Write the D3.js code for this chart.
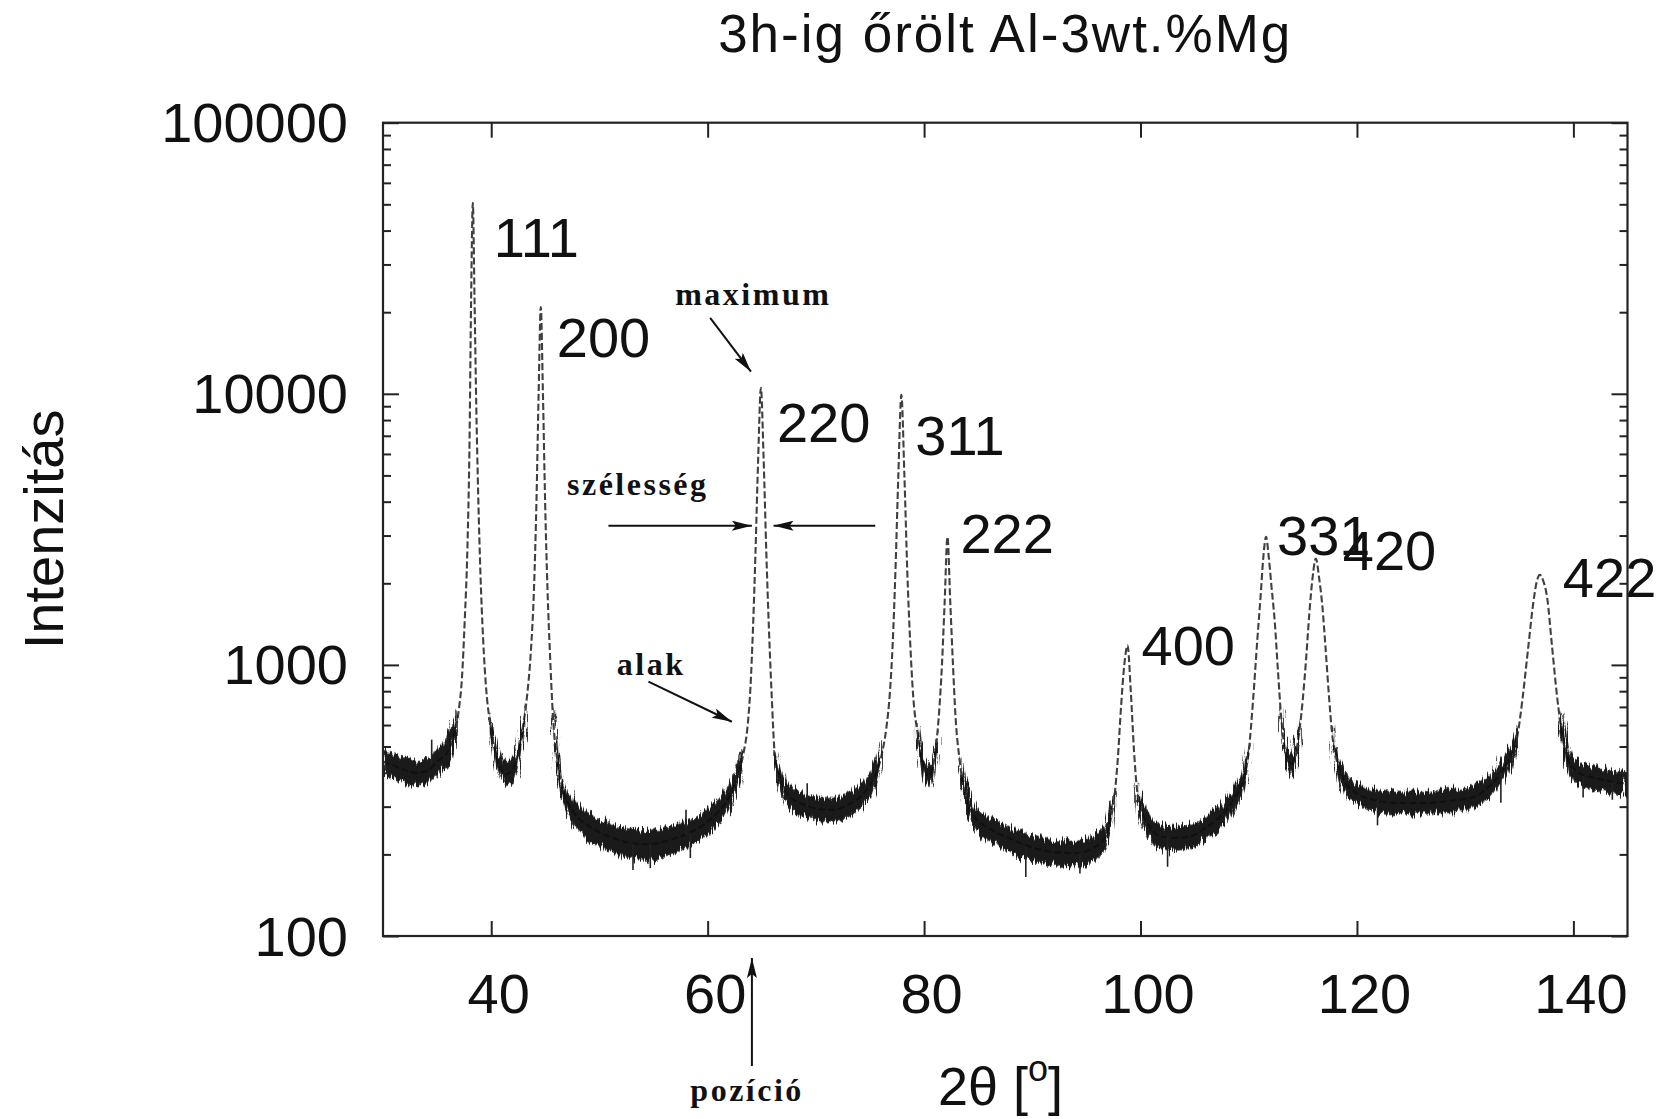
<!DOCTYPE html>
<html>
<head>
<meta charset="utf-8">
<script src="https://cdn.jsdelivr.net/npm/d3@7"></script>
<style>
  html, body { margin: 0; padding: 0; background: #fff; }
  svg { display: block; }
  .sans { font-family: "Liberation Sans", Arial, Helvetica, sans-serif; fill: #111; }
  .note { font-family: "Liberation Serif", "Times New Roman", serif; font-weight: bold; fill: #111; letter-spacing: 2.5px; }
</style>
</head>
<body>
<svg id="chart" width="1667" height="1119"></svg>
<script>
// Diffraction pattern of Al-3wt.%Mg milled for 3 h: 2θ [deg] vs counts
const profile = [
  [30.0, 440], [31.0, 425], [32.0, 410], [33.0, 400], [34.0, 405], [35.0, 440],
  [36.0, 480], [36.5, 540], [37.0, 680], [37.3, 900], [37.55, 1450], [37.8, 2700],
  [37.98, 6000], [38.14, 22000], [38.3, 50600], [38.46, 22000], [38.62, 9000],
  [38.8, 4200], [39.0, 2200], [39.25, 1250], [39.55, 800], [39.9, 610], [40.3, 490],
  [40.8, 420], [41.4, 395], [42.0, 415], [42.5, 470], [42.9, 580], [43.3, 760],
  [43.65, 1100], [43.95, 1900], [44.18, 4000], [44.38, 10000], [44.58, 20900],
  [44.78, 10000], [44.98, 4000], [45.2, 1900], [45.45, 1050], [45.7, 650], [46.1, 450],
  [46.6, 350], [47.8, 280], [49.0, 255], [50.1, 240], [51.5, 228], [53.0, 220],
  [54.5, 218], [56.2, 224], [57.8, 236], [59.3, 252], [60.5, 275], [61.4, 300],
  [62.2, 340], [62.8, 390], [63.3, 470], [63.7, 600], [63.95, 820], [64.2, 1400],
  [64.42, 2600], [64.67, 5800], [64.92, 10530], [65.17, 5800], [65.42, 2600],
  [65.65, 1400], [65.9, 800], [66.2, 470], [66.7, 380], [67.3, 337], [68.5, 310],
  [69.5, 299], [70.5, 293], [71.6, 292], [73.0, 305], [74.1, 326], [75.0, 360],
  [75.6, 400], [76.1, 470], [76.5, 580], [76.85, 800], [77.1, 1200], [77.35, 2200],
  [77.62, 5000], [77.9, 9910], [78.18, 5000], [78.45, 2200], [78.7, 1250], [79.0, 760],
  [79.4, 560], [79.9, 430], [80.4, 390], [80.8, 420], [81.1, 500], [81.4, 680],
  [81.65, 1000], [81.9, 1700], [82.16, 2966], [82.42, 1700], [82.67, 1000], [82.9, 650],
  [83.3, 440], [83.8, 330], [84.6, 278], [86.0, 250], [88.0, 228], [90.0, 212],
  [91.0, 207], [92.5, 203], [94.2, 202], [95.5, 210], [96.6, 228], [97.2, 265],
  [97.6, 330], [97.9, 450], [98.2, 700], [98.5, 1000], [98.8, 1180], [99.1, 800],
  [99.4, 480], [99.7, 340], [100.1, 290], [100.8, 255], [101.6, 235], [103.0, 230],
  [104.6, 233], [106.0, 250], [107.7, 285], [108.8, 330], [109.5, 376], [110.0, 480],
  [110.4, 740], [110.8, 1250], [111.1, 1800], [111.35, 2500], [111.6, 2970],
  [111.85, 2500], [112.1, 1950], [112.4, 1450], [112.7, 950], [113.0, 640], [113.3, 500],
  [113.7, 440], [114.0, 430], [114.3, 460], [114.7, 580], [115.0, 750], [115.3, 1050],
  [115.6, 1550], [115.9, 2100], [116.2, 2470], [116.5, 2100], [116.8, 1650],
  [117.1, 1150], [117.4, 780], [117.7, 560], [118.1, 450], [118.6, 390], [119.1, 360],
  [120.0, 335], [121.5, 318], [123.5, 310], [126.1, 309], [128.5, 315], [130.8, 326],
  [132.2, 355], [133.3, 400], [134.2, 460], [134.8, 540], [135.3, 750], [135.8, 1135],
  [136.3, 1700], [136.6, 2020], [136.9, 2148], [137.2, 2050], [137.6, 1740],
  [138.0, 1200], [138.5, 760], [139.0, 540], [139.7, 430], [140.5, 400], [141.6, 386],
  [143.0, 375], [144.0, 368], [145.0, 365]
];

// Counting-noise spread of the background: [2θ, low, high]
const noiseBand = [
  [[30, 395, 490], [31, 380, 470], [32, 365, 455], [33, 360, 445], [34, 365, 450],
   [35, 395, 490], [36, 430, 540], [36.8, 560, 680]],
  [[39.9, 560, 660], [40.5, 430, 510], [41.4, 355, 440], [42.2, 385, 470],
   [42.8, 480, 590], [43.2, 600, 720]],
  [[45.7, 560, 680], [46.6, 315, 390], [47.8, 250, 310], [49, 228, 283], [50.1, 213, 268],
   [51.5, 202, 255], [53, 193, 248], [54.5, 190, 246], [56.2, 197, 252], [57.8, 210, 263],
   [59.3, 226, 280], [60.5, 248, 305], [61.4, 270, 333], [62.2, 308, 375],
   [62.8, 355, 430], [63.3, 430, 515]],
  [[66.2, 430, 515], [66.7, 345, 415], [67.3, 305, 370], [68.5, 280, 342],
   [69.5, 270, 330], [70.5, 264, 323], [71.6, 263, 322], [73, 275, 337], [74.1, 295, 360],
   [75, 325, 397], [75.6, 365, 440], [76.1, 430, 515]],
  [[79.4, 510, 610], [79.9, 390, 470], [80.4, 350, 430], [80.8, 380, 460], [81.2, 470, 570]],
  [[83.4, 385, 460], [84, 290, 352], [84.6, 250, 305], [86, 225, 277], [88, 203, 252],
   [90, 190, 235], [91, 185, 229], [92.5, 181, 225], [94.2, 180, 224], [95.5, 188, 232],
   [96.6, 205, 252], [97.2, 240, 292], [97.6, 300, 362]],
  [[99.7, 310, 370], [100.0, 272, 330], [100.8, 230, 282], [101.6, 211, 260],
   [103, 207, 254], [104.6, 210, 257], [106, 226, 275], [107.7, 258, 313],
   [108.8, 300, 362], [109.5, 340, 412], [110, 430, 515]],
  [[113.0, 580, 700], [113.3, 455, 545], [113.7, 400, 482], [114.0, 390, 472],
   [114.3, 420, 502], [114.7, 530, 630]],
  [[117.7, 510, 610], [118.1, 410, 492], [118.6, 355, 427], [119.1, 328, 394],
   [120, 305, 367], [121.5, 290, 348], [123.5, 282, 340], [126.1, 281, 339],
   [128.5, 287, 345], [130.8, 297, 357], [132.2, 323, 389], [133.3, 364, 440],
   [134.2, 418, 505], [134.8, 490, 590]],
  [[138.8, 560, 670], [139.3, 460, 560], [139.7, 390, 475], [140.5, 362, 442],
   [141.6, 350, 425], [143, 340, 412], [144, 333, 405], [145, 330, 400]]
];

// Single-channel outliers: [2θ, from, to]
const spikes = [
  [34.5, 430, 530], [53.1, 220, 175], [54.7, 218, 178], [58.0, 236, 292], [58.4, 240, 194],
  [69.2, 300, 366], [89.4, 215, 165], [94.4, 202, 170], [102.5, 232, 180],
  [121.9, 318, 256], [133.3, 400, 310], [140.9, 390, 324], [143.6, 370, 318]
];

// Reflections (hkl), positions and maximum counts
const hkl = ["111", "200", "220", "311", "222", "400", "331", "420", "422"];
const peakPos = [38.3, 44.58, 64.92, 77.9, 82.16, 98.8, 111.6, 116.2, 136.9];
const peakMax = [50600, 20900, 10530, 9910, 2966, 1180, 2970, 2470, 2148];

// Axis ticks
const xTicks = [40, 60, 80, 100, 120, 140];
const yTicks = [100, 1000, 10000, 100000];
const yMinor = [2, 3, 4, 5, 6, 7, 8, 9].flatMap(m => [100, 1000, 10000].map(d => m * d));

// Texts
const titleText = "3h-ig őrölt Al-3wt.%Mg";
const yTitle = "Intenzitás";

// ---------------------------------------------------------------------------
const svg = d3.select("#chart");
const L = 383, R = 1627.5, T = 122.7, B = 936;

const x = d3.scaleLinear().domain([30, 145]).range([L, R]);
const y = d3.scaleLog().domain([100, 100000]).range([B, T]);

const defs = svg.append("defs");
defs.append("clipPath").attr("id", "plotClip")
  .append("rect").attr("x", L).attr("y", T).attr("width", R - L).attr("height", B - T);
defs.append("marker")
  .attr("id", "head").attr("viewBox", "0 0 20 10")
  .attr("refX", 20).attr("refY", 5)
  .attr("markerWidth", 20).attr("markerHeight", 10)
  .attr("markerUnits", "userSpaceOnUse").attr("orient", "auto")
  .append("path").attr("d", "M0,0 L20,5 L0,10 L4,5 Z").attr("fill", "#111");

// ragged edge for the noise ribbon: fast variation along x, slow along y
const rough = defs.append("filter").attr("id", "rough")
  .attr("filterUnits", "userSpaceOnUse")
  .attr("x", L - 20).attr("y", T - 20).attr("width", R - L + 40).attr("height", B - T + 40);
rough.append("feTurbulence")
  .attr("type", "fractalNoise").attr("baseFrequency", "0.55 0.04")
  .attr("numOctaves", 2).attr("seed", 7).attr("result", "turb");
rough.append("feDisplacementMap")
  .attr("in", "SourceGraphic").attr("in2", "turb")
  .attr("scale", 16).attr("xChannelSelector", "R").attr("yChannelSelector", "G");

// ----- data layer
const plot = svg.append("g").attr("clip-path", "url(#plotClip)");

const line = d3.line().x(d => x(d[0])).y(d => y(d[1])).curve(d3.curveMonotoneX);
plot.append("path").datum(profile)
  .attr("d", line)
  .attr("fill", "none")
  .attr("stroke", "#404040").attr("stroke-width", 2.1)
  .attr("stroke-dasharray", "7,3");

const band = d3.area()
  .x(d => x(d[0])).y0(d => y(d[1])).y1(d => y(d[2]))
  .curve(d3.curveMonotoneX);
plot.append("g").attr("filter", "url(#rough)")
  .selectAll("path.noise").data(noiseBand).join("path")
  .attr("class", "noise")
  .attr("d", band)
  .attr("fill", "#121212").attr("fill-opacity", 0.95)
  .attr("stroke", "#444").attr("stroke-width", 1.5).attr("stroke-opacity", 0.55);

plot.selectAll("line.spike").data(spikes).join("line")
  .attr("class", "spike")
  .attr("x1", d => x(d[0])).attr("x2", d => x(d[0]))
  .attr("y1", d => y(d[1])).attr("y2", d => y(d[2]))
  .attr("stroke", "#222").attr("stroke-width", 1.6);

// ----- axes (ticks point inward on all four sides)
function styleAxis(g) {
  g.select(".domain").remove();
  g.selectAll(".tick line").attr("stroke", "#222").attr("stroke-width", 2);
}
const fontTick = 56;

svg.append("g").attr("transform", `translate(0,${B})`)
  .call(d3.axisBottom(x).tickValues(xTicks).tickFormat(d3.format("d"))
    .tickSize(-15).tickPadding(37))
  .call(styleAxis)
  .call(g => g.selectAll("text").attr("class", "sans").attr("font-size", fontTick)
    .attr("font-family", null).attr("dx", 7));

svg.append("g").attr("transform", `translate(0,${T})`)
  .call(d3.axisTop(x).tickValues(xTicks).tickFormat("").tickSize(-15))
  .call(styleAxis);

svg.append("g").attr("transform", `translate(${L},0)`)
  .call(d3.axisLeft(y).tickValues(yTicks).tickFormat(d3.format("d"))
    .tickSize(-16).tickPadding(35))
  .call(styleAxis)
  .call(g => g.selectAll("text").attr("class", "sans").attr("font-size", fontTick)
    .attr("font-family", null).attr("dy", "0.34em"));

svg.append("g").attr("transform", `translate(${L},0)`)
  .call(d3.axisLeft(y).tickValues(yMinor).tickFormat("").tickSize(-8))
  .call(styleAxis);

svg.append("g").attr("transform", `translate(${R},0)`)
  .call(d3.axisRight(y).tickValues(yTicks).tickFormat("").tickSize(-16))
  .call(styleAxis);
svg.append("g").attr("transform", `translate(${R},0)`)
  .call(d3.axisRight(y).tickValues(yMinor).tickFormat("").tickSize(-8))
  .call(styleAxis);

svg.append("rect")
  .attr("x", L).attr("y", T).attr("width", R - L).attr("height", B - T)
  .attr("fill", "none").attr("stroke", "#222").attr("stroke-width", 2.2);

// ----- titles
svg.append("text").attr("class", "sans")
  .attr("x", (L + R) / 2).attr("y", 52)
  .attr("text-anchor", "middle").attr("font-size", 53)
  .style("letter-spacing", "2px")
  .text(titleText);

svg.append("text").attr("class", "sans")
  .attr("transform", `translate(63,${(T + B) / 2}) rotate(-90)`)
  .attr("text-anchor", "middle").attr("font-size", 56)
  .text(yTitle);

const xt = svg.append("text").attr("class", "sans")
  .attr("x", 938).attr("y", 1105).attr("font-size", 54);
xt.append("tspan").text("2θ [");
xt.append("tspan").attr("font-size", 36).attr("dy", -24).text("o");
xt.append("tspan").attr("dy", 24).text("]");

// ----- reflection labels, nudged right/below each maximum
const labelNudge = [[21, 54], [16, 50], [16, 54], [14, 60], [13, 16], [14, 20], [11, 18], [27, 12], [23, 22]];
svg.selectAll("text.hkl").data(hkl).join("text")
  .attr("class", "hkl sans")
  .attr("font-size", 56)
  .attr("x", (d, i) => x(peakPos[i]) + labelNudge[i][0])
  .attr("y", (d, i) => y(peakMax[i]) + labelNudge[i][1])
  .text(d => d);

// ----- profile-parameter annotations around the 220 reflection
const notes = [
  { text: "maximum", at: [57.0, 21260] },
  { text: "szélesség", at: [47.0, 4240] },
  { text: "alak", at: [51.6, 918] }
];
svg.selectAll("text.note").data(notes).join("text")
  .attr("class", "note").attr("font-size", 32)
  .attr("x", d => x(d.at[0])).attr("y", d => y(d.at[1]))
  .text(d => d.text);

const arrows = [
  [[60.23, 19050], [64.0, 12065]],
  [[50.83, 3262], [64.09, 3262]],
  [[75.49, 3262], [66.09, 3262]],
  [[54.53, 867], [62.24, 617]]
];
svg.selectAll("line.arrow").data(arrows).join("line")
  .attr("class", "arrow")
  .attr("x1", d => x(d[0][0])).attr("y1", d => y(d[0][1]))
  .attr("x2", d => x(d[1][0])).attr("y2", d => y(d[1][1]))
  .attr("stroke", "#111").attr("stroke-width", 2)
  .attr("marker-end", "url(#head)");

// position marker below the axis
const posTheta = 64.09;
svg.append("line")
  .attr("x1", x(posTheta)).attr("x2", x(posTheta))
  .attr("y1", B + 130).attr("y2", B + 22)
  .attr("stroke", "#111").attr("stroke-width", 2)
  .attr("marker-end", "url(#head)");
svg.append("text").attr("class", "note").attr("font-size", 32)
  .attr("x", x(58.4)).attr("y", B + 165)
  .text("pozíció");
</script>
</body>
</html>
